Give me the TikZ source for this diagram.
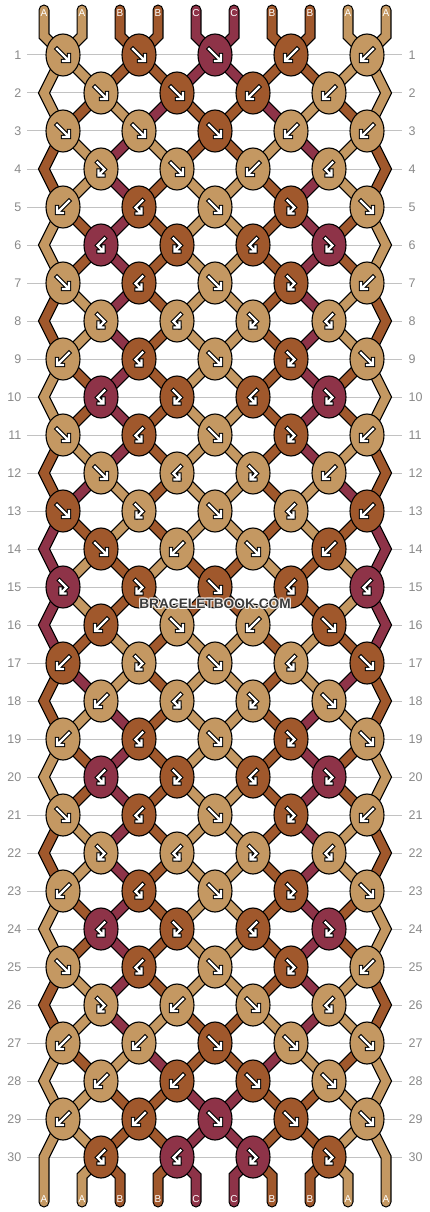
\documentclass[tikz,border=0pt]{standalone}
\usepackage{fontspec}
\setmainfont{Liberation Sans}
\usetikzlibrary{shapes.geometric}
\definecolor{colA}{HTML}{C49862}
\definecolor{colB}{HTML}{A0582C}
\definecolor{colC}{HTML}{8E3348}
\definecolor{gridgray}{HTML}{C2C2C2}
\definecolor{numgray}{HTML}{8A8A8A}
\definecolor{wmgray}{HTML}{3A3A3A}
\newif\ifstroutline
\newcommand\strset[1]{\ifstroutline\def\strcol{black}\def\strw{11pt}\else\def\strcol{col#1}\def\strw{8.6pt}\fi}
\newcommand\arrowdraw[1]{%
  \draw[black,line width=4.4pt,line cap=rect,line join=miter] #1;
  \draw[white,line width=2.2pt,line cap=rect,line join=miter] #1;}
\tikzset{
  knot/.style={ellipse,draw=black,line width=1.1pt,minimum width=34pt,minimum height=42pt,inner sep=0pt},
  kA/.style={knot,fill=colA}, kB/.style={knot,fill=colB}, kC/.style={knot,fill=colC},
  strand/.style={line cap=round,line join=miter},
  rownum/.style={text=numgray,font=\fontsize{12.5}{14}\selectfont,inner sep=0pt},
  endlabel/.style={text=white,font=\fontsize{10}{12}\selectfont,inner sep=0pt},
  wm/.style={font=\bfseries\fontsize{13.7}{16}\selectfont,inner sep=0pt},
  pics/af/.style={code={\arrowdraw{(-6,-6)--(5,5) (0,6)--(6,6)--(6,0)}}},
  pics/ab/.style={code={\arrowdraw{(6,-6)--(-5,5) (0,6)--(-6,6)--(-6,0)}}},
  pics/afb/.style={code={\arrowdraw{(-3.5,-6.5)--(3.5,0.5)--(-2,6) (2.5,6.5)--(-2.5,6.5)--(-2.5,1.5)}}},
  pics/abf/.style={code={\arrowdraw{(3.5,-6.5)--(-3.5,0.5)--(2,6) (-2.5,6.5)--(2.5,6.5)--(2.5,1.5)}}},
}
\begin{document}
\begin{tikzpicture}[x=1pt,y=-1pt]
\useasboundingbox (0,0) rectangle (430,1212);
\fill[white] (0,0) rectangle (430,1212);
% rows: coordinates, numbers, grid lines
\foreach \r in {1,...,30}{
  \pgfmathsetmacro\yy{55+38*(\r-1)}
  \pgfmathtruncatemacro\od{mod(\r,2)}
  \ifnum\od=1
    \foreach \i in {1,...,5}{\coordinate (c-\r-\i) at ({63+76*(\i-1)},\yy);}
  \else
    \foreach \i in {1,...,4}{\coordinate (c-\r-\i) at ({101+76*(\i-1)},\yy);}
    \coordinate (e-\r-L) at (44,\yy);
    \coordinate (e-\r-R) at (386,\yy);
  \fi
  \node[rownum,anchor=east] (ln-\r) at (21.5,\yy) {\r};
  \node[rownum,anchor=west] (rn-\r) at (408.5,\yy) {\r};
  \draw[gridgray,line width=1pt] ([xshift=5.5pt]ln-\r.east) -- ([xshift=-6.5pt]rn-\r.west);
}
\foreach \p in {1,...,10}{
  \pgfmathsetmacro\xx{44+38*(\p-1)}
  \coordinate (t-\p) at (\xx,10);
  \coordinate (tb-\p) at (\xx,36);
  \coordinate (bb-\p) at (\xx,1176);
  \coordinate (b-\p) at (\xx,1202);
}
% strings: outline pass then colour pass
\foreach \pass in {1,0}{
  \ifnum\pass=1 \stroutlinetrue\else\stroutlinefalse\fi
  \foreach \c [count=\p] in {A,A,B,B,C,C,B,B,A,A}{
    \pgfmathtruncatemacro\k{(\p+1)/2}
    \strset{\c}
    \draw[strand,draw=\strcol,line width=\strw] (t-\p) -- (tb-\p) -- (c-1-\k);
  }
  \foreach \r/\s in {
    1/{A,A,B,B,C,C,B,B,A,A},
    2/{A,B,A,C,B,B,C,A,B,A},
    3/{B,A,C,A,B,B,A,C,A,B},
    4/{B,A,C,B,A,A,B,C,A,B},
    5/{A,B,C,B,A,A,B,C,B,A},
    6/{A,B,C,B,A,A,B,C,B,A},
    7/{B,A,C,B,A,A,B,C,A,B},
    8/{B,A,C,B,A,A,B,C,A,B},
    9/{A,B,C,B,A,A,B,C,B,A},
    10/{A,B,C,B,A,A,B,C,B,A},
    11/{B,A,C,B,A,A,B,C,A,B},
    12/{B,C,A,B,A,A,B,A,C,B},
    13/{C,B,A,B,A,A,B,A,B,C},
    14/{C,A,B,A,B,B,A,B,A,C},
    15/{C,A,B,A,B,B,A,B,A,C},
    16/{C,B,A,B,A,A,B,A,B,C},
    17/{B,C,A,B,A,A,B,A,C,B},
    18/{B,A,C,B,A,A,B,C,A,B},
    19/{A,B,C,B,A,A,B,C,B,A},
    20/{A,B,C,B,A,A,B,C,B,A},
    21/{B,A,C,B,A,A,B,C,A,B},
    22/{B,A,C,B,A,A,B,C,A,B},
    23/{A,B,C,B,A,A,B,C,B,A},
    24/{A,B,C,B,A,A,B,C,B,A},
    25/{B,A,C,B,A,A,B,C,A,B},
    26/{B,A,C,A,B,B,A,C,A,B},
    27/{A,B,A,C,B,B,C,A,B,A},
    28/{A,A,B,B,C,C,B,B,A,A},
    29/{A,A,B,B,C,C,B,B,A,A}}{
    \pgfmathtruncatemacro\od{mod(\r,2)}
    \pgfmathtruncatemacro\rn{\r+1}
    \foreach \c [count=\p] in \s {
      \ifnum\p>1 \ifnum\p<10
        \ifnum\od=1
          \pgfmathtruncatemacro\ka{(\p+1)/2}\pgfmathtruncatemacro\kb{\p/2}
        \else
          \pgfmathtruncatemacro\ka{\p/2}\pgfmathtruncatemacro\kb{(\p+1)/2}
        \fi
        \strset{\c}
        \draw[strand,draw=\strcol,line width=\strw] (c-\r-\ka) -- (c-\rn-\kb);
      \fi\fi
    }
  }
  \foreach \r/\c in {2/A,4/B,6/A,8/B,10/A,12/B,14/C,16/C,18/B,20/A,22/B,24/A,26/B,28/A}{
    \pgfmathtruncatemacro\ra{\r-1}\pgfmathtruncatemacro\rb{\r+1}
    \strset{\c}
    \draw[strand,draw=\strcol,line width=\strw] (c-\ra-1) -- (e-\r-L) -- (c-\rb-1);
    \draw[strand,draw=\strcol,line width=\strw] (c-\ra-5) -- (e-\r-R) -- (c-\rb-5);
  }
  \strset{A}
  \draw[strand,draw=\strcol,line width=\strw] (c-29-1) -- (e-30-L) -- (b-1);
  \draw[strand,draw=\strcol,line width=\strw] (c-29-5) -- (e-30-R) -- (b-10);
  \foreach \c [count=\p] in {A,A,B,B,C,C,B,B,A,A}{
    \ifnum\p>1 \ifnum\p<10
      \pgfmathtruncatemacro\k{\p/2}
      \strset{\c}
      \draw[strand,draw=\strcol,line width=\strw] (c-30-\k) -- (bb-\p) -- (b-\p);
    \fi\fi
  }
}
% end labels
\foreach \l [count=\p] in {A,A,B,B,C,C,B,B,A,A}{
  \node[endlabel] (tl-\p) at ({44+38*(\p-1)},13) {\l};
  \node[endlabel] (bl-\p) at ({44+38*(\p-1)},1199) {\l};
}
% knots
\foreach \r/\ks in {
  1/{A/f,B/f,C/f,B/b,A/b},
  2/{A/f,B/f,B/b,A/b},
  3/{A/f,A/f,B/f,A/b,A/b},
  4/{A/fb,A/f,A/b,A/bf},
  5/{A/b,B/bf,A/f,B/fb,A/f},
  6/{C/bf,B/fb,B/bf,C/fb},
  7/{A/f,B/bf,A/f,B/fb,A/b},
  8/{A/fb,A/bf,A/fb,A/bf},
  9/{A/b,B/bf,A/f,B/fb,A/f},
  10/{C/bf,B/fb,B/bf,C/fb},
  11/{A/f,B/bf,A/f,B/fb,A/b},
  12/{A/f,A/bf,A/fb,A/b},
  13/{B/f,A/fb,A/f,A/bf,B/b},
  14/{B/f,A/b,A/f,B/b},
  15/{C/fb,B/fb,B/f,B/bf,C/bf},
  16/{B/b,A/f,A/b,B/f},
  17/{B/b,A/fb,A/f,A/bf,B/f},
  18/{A/b,A/bf,A/fb,A/f},
  19/{A/b,B/bf,A/f,B/fb,A/f},
  20/{C/bf,B/fb,B/bf,C/fb},
  21/{A/f,B/bf,A/f,B/fb,A/b},
  22/{A/fb,A/bf,A/fb,A/bf},
  23/{A/b,B/bf,A/f,B/fb,A/f},
  24/{C/bf,B/fb,B/bf,C/fb},
  25/{A/f,B/bf,A/f,B/fb,A/b},
  26/{A/fb,A/b,A/f,A/bf},
  27/{A/b,A/b,B/f,A/f,A/f},
  28/{A/b,B/b,B/f,A/f},
  29/{A/b,B/b,C/f,B/f,A/f},
  30/{B/bf,C/bf,C/fb,B/fb}}{
  \foreach \cc/\ty [count=\i] in \ks {
    \node[k\cc] (k-\r-\i) at (c-\r-\i) {};
    \pic at (c-\r-\i) {a\ty};
  }
}
% watermark
\foreach \dx/\dy [count=\h] in {1/0,-1/0,0/1,0/-1,1/1,-1/1,1/-1,-1/-1}{
  \node[wm,text=white,opacity=0.6] (wm-\h) at (215+\dx,604+\dy) {BRACELETBOOK.COM};
}
\node[wm,text=wmgray] (wm) at (215,604) {BRACELETBOOK.COM};
\end{tikzpicture}
\end{document}
